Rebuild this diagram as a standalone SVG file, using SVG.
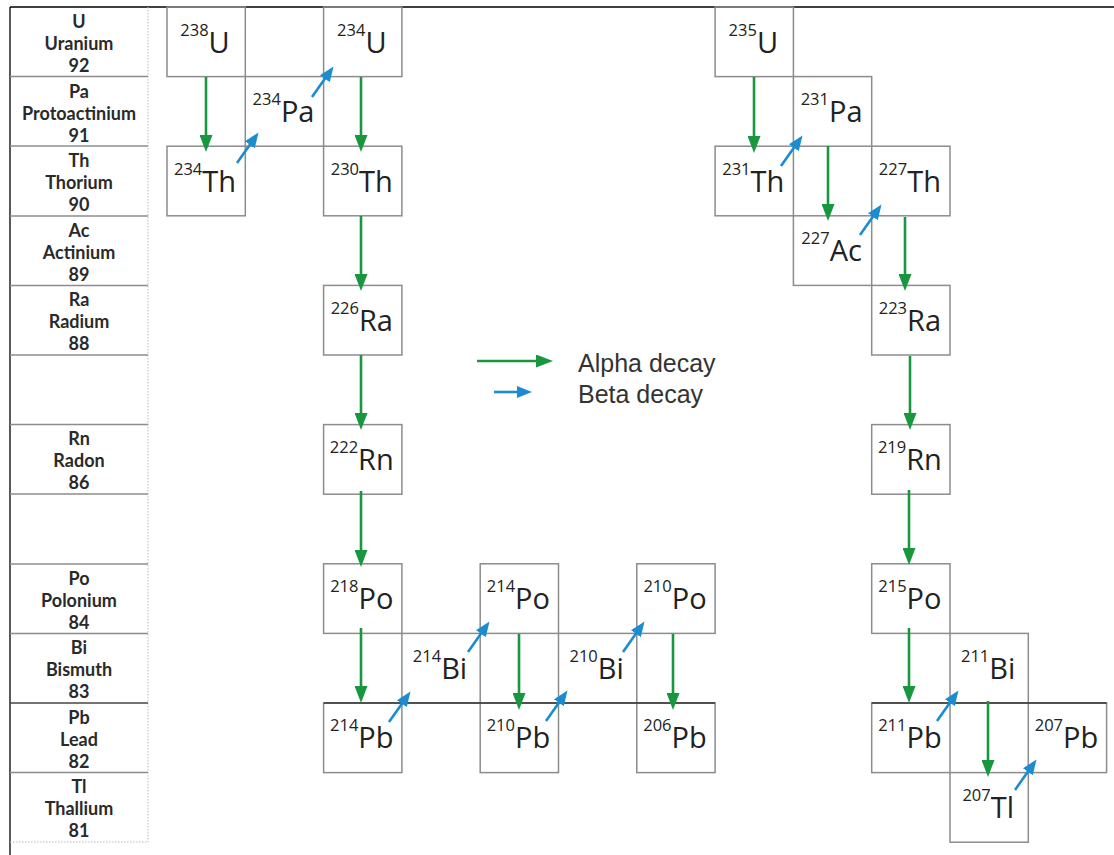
<svg xmlns="http://www.w3.org/2000/svg" width="1114" height="855" viewBox="0 0 1114 855">
<defs>
<style>
.bx{fill:none;stroke:#8c8c8c;stroke-width:1.5}
.lab{font-family:"Open Sans","DejaVu Sans",sans-serif;font-size:29px;fill:#222;text-anchor:middle}
.sup{font-size:16.5px}
.el{font-family:Lato,"Liberation Sans",sans-serif;font-weight:bold;font-size:18px;fill:#2a2a2a;text-anchor:middle}
.rl{stroke:#8c8c8c;stroke-width:1.5}
.ga{stroke:#18973f;stroke-width:2.6;fill:none;marker-end:url(#gh)}
.ba{stroke:#1b8ccf;stroke-width:2.6;fill:none;marker-end:url(#bh)}
.lg{font-family:"Liberation Sans",Arial,sans-serif;font-size:25px;fill:#333}
</style>
<marker id="gh" markerUnits="userSpaceOnUse" markerWidth="17" markerHeight="13" refX="7" refY="6.5" orient="auto"><path d="M0,0 L17,6.5 L0,13 Z" fill="#18973f"/></marker>
<marker id="bh" markerUnits="userSpaceOnUse" markerWidth="15" markerHeight="12" refX="7" refY="6" orient="auto"><path d="M0,0 L15,6 L0,12 Z" fill="#1b8ccf"/></marker>
</defs>
<rect width="1114" height="855" fill="#ffffff"/>
<g id="frame">
<line x1="10" y1="7" x2="1114" y2="7" stroke="#000" stroke-width="1.3"/>
<line x1="10" y1="7" x2="10" y2="855" stroke="#000" stroke-width="1.3"/>
<line x1="148" y1="7" x2="148" y2="842" stroke="#bbb" stroke-width="1" stroke-dasharray="1.5,1.5"/>
<line x1="10" y1="842" x2="148" y2="842" stroke="#bbb" stroke-width="1" stroke-dasharray="1.5,1.5"/>
<line class="rl" x1="10" y1="76.5" x2="148" y2="76.5"/>
<line class="rl" x1="10" y1="146" x2="148" y2="146"/>
<line class="rl" x1="10" y1="216" x2="148" y2="216"/>
<line class="rl" x1="10" y1="285.5" x2="148" y2="285.5"/>
<line class="rl" x1="10" y1="355" x2="148" y2="355"/>
<line class="rl" x1="10" y1="424.5" x2="148" y2="424.5"/>
<line class="rl" x1="10" y1="494" x2="148" y2="494"/>
<line class="rl" x1="10" y1="564" x2="148" y2="564"/>
<line class="rl" x1="10" y1="633.5" x2="148" y2="633.5"/>
<line x1="10" y1="703" x2="148" y2="703" stroke="#444" stroke-width="1.3"/>
<line class="rl" x1="10" y1="772.5" x2="148" y2="772.5"/>
</g>
<g id="elements">
<text class="el" x="79" y="28">U</text><text class="el" x="79" y="50">Uranium</text><text class="el" x="79" y="72">92</text>
<text class="el" x="79" y="98">Pa</text><text class="el" x="79" y="120">Protoactinium</text><text class="el" x="79" y="142">91</text>
<text class="el" x="79" y="167">Th</text><text class="el" x="79" y="189">Thorium</text><text class="el" x="79" y="211">90</text>
<text class="el" x="79" y="237">Ac</text><text class="el" x="79" y="259">Actinium</text><text class="el" x="79" y="281">89</text>
<text class="el" x="79" y="306">Ra</text><text class="el" x="79" y="328">Radium</text><text class="el" x="79" y="350">88</text>
<text class="el" x="79" y="445">Rn</text><text class="el" x="79" y="467">Radon</text><text class="el" x="79" y="489">86</text>
<text class="el" x="79" y="585">Po</text><text class="el" x="79" y="607">Polonium</text><text class="el" x="79" y="629">84</text>
<text class="el" x="79" y="654">Bi</text><text class="el" x="79" y="676">Bismuth</text><text class="el" x="79" y="698">83</text>
<text class="el" x="79" y="724">Pb</text><text class="el" x="79" y="746">Lead</text><text class="el" x="79" y="768">82</text>
<text class="el" x="79" y="793">Tl</text><text class="el" x="79" y="815">Thallium</text><text class="el" x="79" y="837">81</text>
</g>
<g id="n-U238"><rect class="bx" x="167" y="7" width="78.3" height="69.6"/><text class="lab" x="205" y="53"><tspan class="sup" dy="-17">238</tspan><tspan dy="17">U</tspan></text></g>
<g id="n-Th234"><rect class="bx" x="167" y="146.2" width="78.3" height="69.6"/><text class="lab" x="205" y="192"><tspan class="sup" dy="-17">234</tspan><tspan dy="17">Th</tspan></text></g>
<g id="n-Pa234"><rect class="bx" x="245.3" y="76.6" width="78.3" height="69.6"/><text class="lab" x="283.5" y="122"><tspan class="sup" dy="-17">234</tspan><tspan dy="17">Pa</tspan></text></g>
<g id="n-U234"><rect class="bx" x="323.6" y="7" width="78.3" height="69.6"/><text class="lab" x="361.8" y="53"><tspan class="sup" dy="-17">234</tspan><tspan dy="17">U</tspan></text></g>
<g id="n-Th230"><rect class="bx" x="323.6" y="146.2" width="78.3" height="69.6"/><text class="lab" x="361.8" y="192"><tspan class="sup" dy="-17">230</tspan><tspan dy="17">Th</tspan></text></g>
<g id="n-Ra226"><rect class="bx" x="323.6" y="285.4" width="78.3" height="69.6"/><text class="lab" x="361.8" y="331"><tspan class="sup" dy="-17">226</tspan><tspan dy="17">Ra</tspan></text></g>
<g id="n-Rn222"><rect class="bx" x="323.6" y="424.6" width="78.3" height="69.6"/><text class="lab" x="361.8" y="470"><tspan class="sup" dy="-17">222</tspan><tspan dy="17">Rn</tspan></text></g>
<g id="n-Po218"><rect class="bx" x="323.6" y="563.8" width="78.3" height="69.6"/><text class="lab" x="361.8" y="609"><tspan class="sup" dy="-17">218</tspan><tspan dy="17">Po</tspan></text></g>
<g id="n-Pb214"><rect class="bx" x="323.6" y="703" width="78.3" height="69.6"/><text class="lab" x="361.8" y="748"><tspan class="sup" dy="-17">214</tspan><tspan dy="17">Pb</tspan></text></g>
<g id="n-Bi214"><rect class="bx" x="401.9" y="633.4" width="78.3" height="69.6"/><text class="lab" x="440" y="679"><tspan class="sup" dy="-17">214</tspan><tspan dy="17">Bi</tspan></text></g>
<g id="n-Po214"><rect class="bx" x="480.2" y="563.8" width="78.3" height="69.6"/><text class="lab" x="518.4" y="609"><tspan class="sup" dy="-17">214</tspan><tspan dy="17">Po</tspan></text></g>
<g id="n-Pb210"><rect class="bx" x="480.2" y="703" width="78.3" height="69.6"/><text class="lab" x="518.4" y="748"><tspan class="sup" dy="-17">210</tspan><tspan dy="17">Pb</tspan></text></g>
<g id="n-Bi210"><rect class="bx" x="558.5" y="633.4" width="78.3" height="69.6"/><text class="lab" x="596.7" y="679"><tspan class="sup" dy="-17">210</tspan><tspan dy="17">Bi</tspan></text></g>
<g id="n-Po210"><rect class="bx" x="636.8" y="563.8" width="78.3" height="69.6"/><text class="lab" x="675" y="609"><tspan class="sup" dy="-17">210</tspan><tspan dy="17">Po</tspan></text></g>
<g id="n-Pb206"><rect class="bx" x="636.8" y="703" width="78.3" height="69.6"/><text class="lab" x="675" y="748"><tspan class="sup" dy="-17">206</tspan><tspan dy="17">Pb</tspan></text></g>
<g id="n-U235"><rect class="bx" x="715.1" y="7" width="78.3" height="69.6"/><text class="lab" x="753.3" y="53"><tspan class="sup" dy="-17">235</tspan><tspan dy="17">U</tspan></text></g>
<g id="n-Pa231"><rect class="bx" x="793.4" y="76.6" width="78.3" height="69.6"/><text class="lab" x="831.6" y="122"><tspan class="sup" dy="-17">231</tspan><tspan dy="17">Pa</tspan></text></g>
<g id="n-Th231"><rect class="bx" x="715.1" y="146.2" width="78.3" height="69.6"/><text class="lab" x="753.3" y="192"><tspan class="sup" dy="-17">231</tspan><tspan dy="17">Th</tspan></text></g>
<g id="n-Th227"><rect class="bx" x="871.7" y="146.2" width="78.3" height="69.6"/><text class="lab" x="909.9" y="192"><tspan class="sup" dy="-17">227</tspan><tspan dy="17">Th</tspan></text></g>
<g id="n-Ac227"><rect class="bx" x="793.4" y="215.8" width="78.3" height="69.6"/><text class="lab" x="831.6" y="261"><tspan class="sup" dy="-17">227</tspan><tspan dy="17">Ac</tspan></text></g>
<g id="n-Ra223"><rect class="bx" x="871.7" y="285.4" width="78.3" height="69.6"/><text class="lab" x="909.9" y="331"><tspan class="sup" dy="-17">223</tspan><tspan dy="17">Ra</tspan></text></g>
<g id="n-Rn219"><rect class="bx" x="871.7" y="424.6" width="78.3" height="69.6"/><text class="lab" x="909.9" y="470"><tspan class="sup" dy="-17">219</tspan><tspan dy="17">Rn</tspan></text></g>
<g id="n-Po215"><rect class="bx" x="871.7" y="563.8" width="78.3" height="69.6"/><text class="lab" x="909.9" y="609"><tspan class="sup" dy="-17">215</tspan><tspan dy="17">Po</tspan></text></g>
<g id="n-Bi211"><rect class="bx" x="950" y="633.4" width="78.3" height="69.6"/><text class="lab" x="988.2" y="679"><tspan class="sup" dy="-17">211</tspan><tspan dy="17">Bi</tspan></text></g>
<g id="n-Pb211"><rect class="bx" x="871.7" y="703" width="78.3" height="69.6"/><text class="lab" x="909.9" y="748"><tspan class="sup" dy="-17">211</tspan><tspan dy="17">Pb</tspan></text></g>
<g id="n-Tl207"><rect class="bx" x="950" y="772.6" width="78.3" height="69.6"/><text class="lab" x="988.2" y="818"><tspan class="sup" dy="-17">207</tspan><tspan dy="17">Tl</tspan></text></g>
<g id="n-Pb207"><rect class="bx" x="1028.3" y="703" width="78.3" height="69.6"/><text class="lab" x="1066.5" y="748"><tspan class="sup" dy="-17">207</tspan><tspan dy="17">Pb</tspan></text></g>
<g id="darklines">
<line x1="323.6" y1="703" x2="715.1" y2="703" stroke="#333" stroke-width="1.3"/>
<line x1="871.7" y1="703" x2="1106.6" y2="703" stroke="#333" stroke-width="1.3"/>
</g>
<g id="connectors">
<line class="ga" x1="206" y1="77" x2="206" y2="142"/>
<line class="ga" x1="361" y1="77" x2="361" y2="142"/>
<line class="ga" x1="361" y1="216" x2="361" y2="281"/>
<line class="ga" x1="361" y1="355" x2="361" y2="420"/>
<line class="ga" x1="361" y1="491" x2="361" y2="557"/>
<line class="ga" x1="361" y1="628" x2="361" y2="693"/>
<line class="ga" x1="519" y1="634" x2="519" y2="700"/>
<line class="ga" x1="673" y1="634" x2="673" y2="700"/>
<line class="ga" x1="754" y1="77" x2="754" y2="143"/>
<line class="ga" x1="828" y1="146" x2="828" y2="211"/>
<line class="ga" x1="905" y1="217" x2="905" y2="281"/>
<line class="ga" x1="910" y1="356" x2="910" y2="420"/>
<line class="ga" x1="909" y1="490" x2="909" y2="555"/>
<line class="ga" x1="909" y1="628" x2="909" y2="693"/>
<line class="ga" x1="988" y1="701" x2="988" y2="767"/>
<line class="ba" x1="237" y1="163" x2="253.9" y2="139"/>
<line class="ba" x1="312" y1="97" x2="328.9" y2="73"/>
<line class="ba" x1="389" y1="722" x2="405.9" y2="698"/>
<line class="ba" x1="468" y1="652" x2="484.9" y2="628"/>
<line class="ba" x1="546" y1="721" x2="562.9" y2="697"/>
<line class="ba" x1="623" y1="652" x2="639.9" y2="628"/>
<line class="ba" x1="781" y1="166" x2="797.9" y2="142"/>
<line class="ba" x1="860" y1="235" x2="876.9" y2="211"/>
<line class="ba" x1="937" y1="721" x2="953.9" y2="697"/>
<line class="ba" x1="1015" y1="790" x2="1031.9" y2="766"/>
</g>
<g id="legend">
<line class="ga" x1="477" y1="361" x2="543" y2="361"/>
<line class="ba" x1="494" y1="392" x2="524" y2="392"/>
<text class="lg" x="578" y="372">Alpha decay</text>
<text class="lg" x="578" y="403">Beta decay</text>
</g>
</svg>
